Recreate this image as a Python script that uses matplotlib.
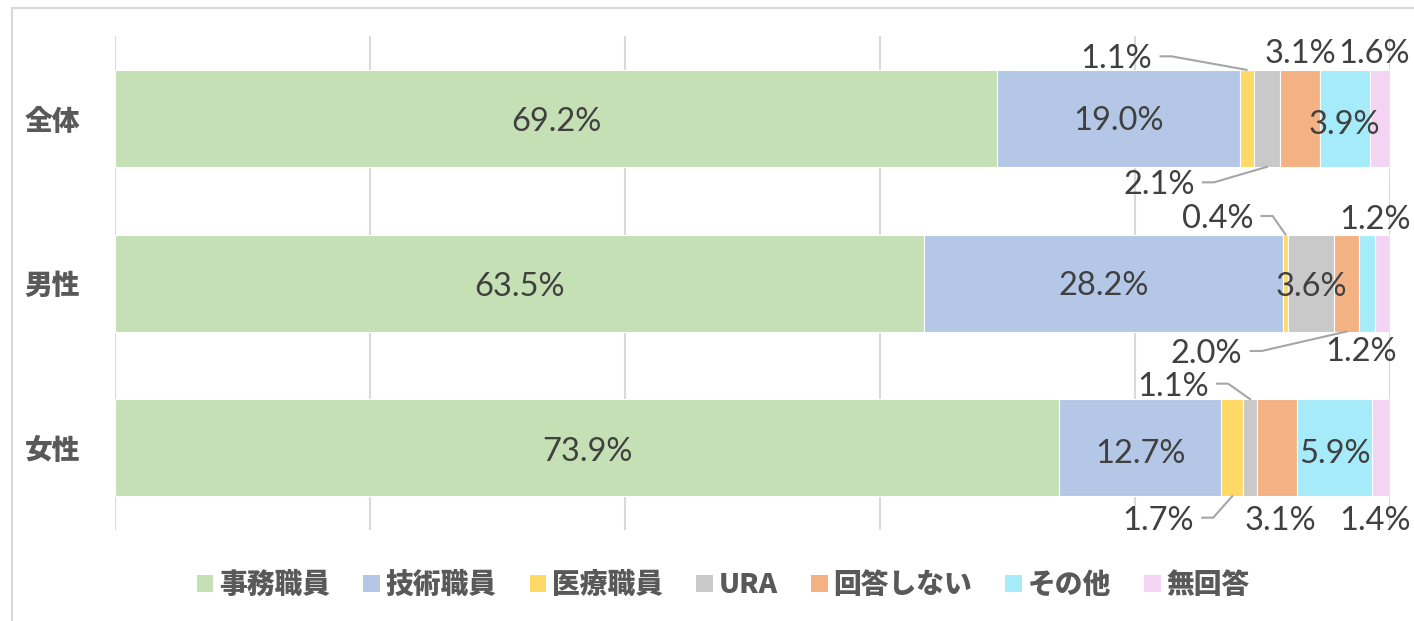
import matplotlib
matplotlib.use("Agg")
import matplotlib.pyplot as plt
from matplotlib.patches import Patch
from matplotlib.lines import Line2D

categories = ['全体', '男性', '女性']
series_names = ['事務職員', '技術職員', '医療職員', 'URA', '回答しない', 'その他', '無回答']
jimu = [69.2, 63.5, 73.9]
gijutsu = [19.0, 28.2, 12.7]
iryo = [1.1, 0.4, 1.7]
ura = [2.1, 3.6, 1.1]
kaitou_shinai = [3.1, 2.0, 3.1]
sonota = [3.9, 1.2, 5.9]
mukaitou = [1.6, 1.2, 1.4]
values = [jimu, gijutsu, iryo, ura, kaitou_shinai, sonota, mukaitou]
colors = ['#C5E0B4', '#B4C7E7', '#FFD966', '#C9C9C9', '#F4B183', '#A6EBFA', '#F3D5F3']

# label placement: (row, series, dx px, dy px, leader line?)
label_pos = [
    (0, 0, 0, 4, False), (0, 1, 0, 3, False), (0, 2, -130, -59, True),
    (0, 3, -108, 67, True), (0, 4, 0, -64, False), (0, 5, 0, 7, False),
    (0, 6, -6, -64, False),
    (1, 0, 0, 4, False), (1, 1, 0, 3, False), (1, 2, -68, -64, True),
    (1, 3, 0, 4, False), (1, 4, -140, 71, True), (1, 5, 8, -63, False),
    (1, 6, -21, 69, False),
    (2, 0, 0, 4, False), (2, 1, 0, 6, False), (2, 2, -74, 73, True),
    (2, 3, -77, -61, True), (2, 4, 3, 73, False), (2, 5, 0, 6, False),
    (2, 6, -6, 73, False),
]

W, H = 1414, 621
fig = plt.figure(figsize=(W / 100, H / 100), dpi=100)
ax = fig.add_axes([115 / W, 1 - 530 / H, 1275 / W, 494 / H])
ax.set_xlim(0, 100)
ax.set_ylim(2.5, -0.5)
sx = 1275 / 100
sy = 494 / 3
bar_h = 97 / sy

for g in range(0, 101, 20):
    ax.axvline(g, color='#D9D9D9', lw=1.5, zorder=0)

totals = [sum(v[r] for v in values) for r in range(3)]
lefts = [[0] * 3 for _ in values]
widths = [[0] * 3 for _ in values]
for r in range(3):
    acc = 0
    for s, v in enumerate(values):
        w = v[r] / totals[r] * 100
        lefts[s][r] = acc
        widths[s][r] = w
        acc += w

for s, v in enumerate(values):
    ax.barh(range(3), widths[s], left=lefts[s], height=bar_h,
            color=colors[s], edgecolor='white', linewidth=0.8, zorder=2)

for r, s, dx, dy, leader in label_pos:
    xc = lefts[s][r] + widths[s][r] / 2
    tx = xc + dx / sx
    ty = r + dy / sy
    ax.text(tx, ty, f"{values[s][r]:.1f}%", ha='center', va='center',
            fontsize=23.5, family='Lato', color='#404040', zorder=4)
    if leader:
        edge = r - bar_h / 2 if dy < 0 else r + bar_h / 2
        ly = r + (dy - 3) / sy
        xs = [tx + 44 / sx, tx + 55 / sx, xc]
        ys = [ly, ly, edge]
        ax.plot(xs, ys, color='#A6A6A6', lw=1.5, zorder=3)

ax.set_yticks(range(3))
ax.set_yticklabels(categories, family='Noto Sans CJK JP', fontweight='heavy',
                   fontsize=20, color='#595959')
ax.tick_params(axis='y', length=0, pad=25)
ax.set_xticks([])
for sp in ax.spines.values():
    sp.set_visible(False)

handles = [Patch(facecolor=c, edgecolor='none') for c in colors]
leg = fig.legend(handles, series_names, loc='center', bbox_to_anchor=(723 / W, 1 - 585 / H),
                 ncol=7, frameon=False, handlelength=0.6, handleheight=0.6,
                 handletextpad=0.2, columnspacing=1.2,
                 prop={'family': 'Noto Sans CJK JP', 'weight': 'heavy', 'size': 20})
for t in leg.get_texts():
    t.set_color('#595959')

fig.add_artist(Line2D([12 / W, 12 / W], [0, 1 - 8 / H], transform=fig.transFigure,
                      color='#D9D9D9', lw=1.5))
fig.add_artist(Line2D([12 / W, 1], [1 - 8 / H, 1 - 8 / H], transform=fig.transFigure,
                      color='#D9D9D9', lw=1.5))

fig.savefig('out.png', dpi=100)
plt.close(fig)
